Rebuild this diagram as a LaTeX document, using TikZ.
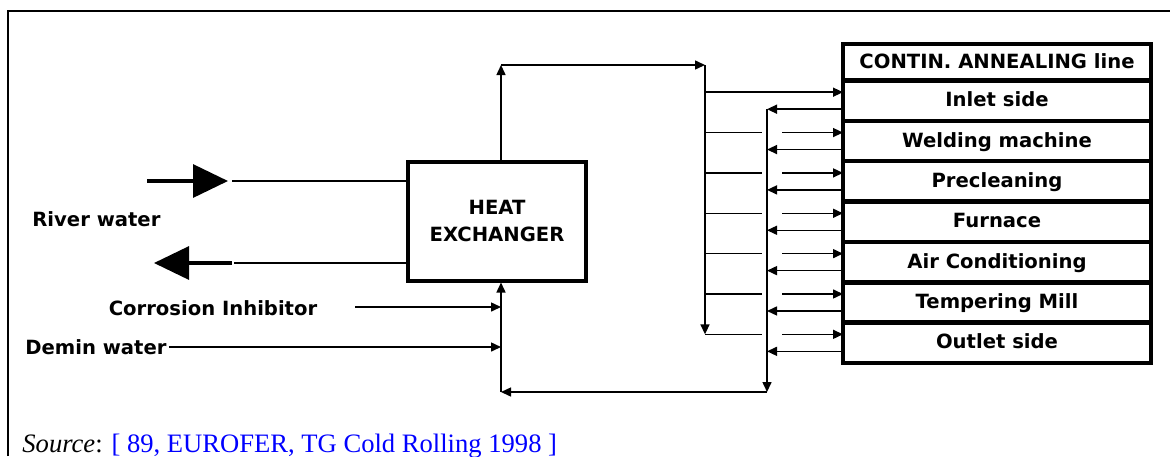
\documentclass[tikz,border=0pt]{standalone}
\usepackage{fontspec}
\setmainfont{Liberation Serif}
\setsansfont{DejaVu Sans}
\usepackage{xcolor}
\usepackage{tikz}
\usetikzlibrary{arrows.meta,positioning,calc}

\begin{document}
\begin{tikzpicture}[
    x=0.5pt, y=-0.5pt,
    lbl/.style={font=\sffamily\bfseries\fontsize{9.8}{11.5}\selectfont, inner sep=1pt},
    unitbox/.style={rectangle, draw, line width=2.2pt, outer sep=0pt, minimum width=154pt, minimum height=20.18pt, inner sep=0pt, text height=1.7ex, text depth=0.4ex, font=\sffamily\bfseries\fontsize{9.8}{11.5}\selectfont},
    pipe/.style={line width=0.75pt},
    pipeto/.style={line width=0.75pt, -{Triangle[length=5pt,width=4.5pt]}},
    bigpipe/.style={line width=1.6pt, -{Triangle[length=17.5pt,width=16.5pt]}},
    node distance=0pt
]
    \useasboundingbox (0,0) rectangle (1170,456);
    % frame
    \draw[line width=1.4pt] (8,456) -- (8,11) -- (1170,11);

    % heat exchanger and annealing line units
    \node[draw, line width=2pt, minimum width=89pt, minimum height=59.5pt, align=center, font=\sffamily\bfseries\fontsize{9.8}{13.5}\selectfont] (he) at (497,221) {HEAT\\EXCHANGER};
    \node[unitbox, minimum height=18.25pt] (cal) at (997,62.25) {CONTIN. ANNEALING line};
    \node[unitbox, below=of cal] (inlet) {Inlet side};
    \node[unitbox, below=of inlet] (weld) {Welding machine};
    \node[unitbox, below=of weld] (preclean) {Precleaning};
    \node[unitbox, below=of preclean] (furnace) {Furnace};
    \node[unitbox, below=of furnace] (aircon) {Air Conditioning};
    \node[unitbox, below=of aircon] (temper) {Tempering Mill};
    \node[unitbox, below=of temper] (outlet) {Outlet side};

    % labels on the left
    \node[lbl, anchor=west] (river) at (30,219) {River water};
    \node[lbl] (inhib) at (213,308) {Corrosion Inhibitor};
    \node[lbl, anchor=west] (demin) at (23,347) {Demin water};
    \node[anchor=base west, inner sep=0pt, font=\fontsize{13.3}{15}\selectfont] (src) at (22,452) {\textit{Source}: \textcolor{blue}{[ 89, EUROFER, TG Cold Rolling 1998 ]}};

    % corners of the water circuit
    \coordinate (up) at (501,65);
    \coordinate (sup) at (705,65);
    \coordinate (ret) at (767,392);
    \coordinate (back) at (501,392);
    \coordinate (gapl) at (762,0);
    \coordinate (gapr) at (782,0);
    \coordinate (rin) at (147,181);
    \coordinate (rinend) at (228,181);
    \coordinate (rinpipe) at (232,181);
    \coordinate (rout) at (232,263);
    \coordinate (routend) at (154,263);
    \coordinate (routpipe) at (234,263);
    \coordinate (inhibpipe) at (355,307);
    \foreach \x in {inlet,weld,preclean,furnace,aircon,temper,outlet} {
        \coordinate (\x-in) at ([yshift=4.25pt]\x.west);
        \coordinate (\x-out) at ([yshift=-4.25pt]\x.west);
    }

    % river water
    \draw[bigpipe] (rin) -- (rinend);
    \draw[pipe] (rinpipe) -- (he.west |- rinpipe);
    \draw[bigpipe] (rout) -- (routend);
    \draw[pipe] (routpipe) -- (he.west |- routpipe);

    % supply
    \draw[pipeto] (he.north -| up) -- (up);
    \draw[pipeto] (up) -- (sup);
    \draw[pipeto] (sup) -- (sup |- outlet-in);
    \draw[pipeto] (sup |- inlet-in) -- (inlet-in);
    \foreach \x in {weld,preclean,furnace,aircon,temper,outlet} {
        \draw[pipe] (sup |- \x-in) -- (gapl |- \x-in);
        \draw[pipeto] (gapr |- \x-in) -- (\x-in);
    }

    % return
    \foreach \x in {inlet,weld,preclean,furnace,aircon,temper,outlet}
        \draw[pipeto] (\x-out) -- (ret |- \x-out);
    \draw[pipeto] (inlet-out -| ret) -- (ret);
    \draw[pipeto] (ret) -- (back);
    \draw[pipeto] (back) -- (he.south -| back);
    \draw[pipeto] (inhibpipe) -- (inhibpipe -| back);
    \draw[pipeto] (demin.east) -- (demin.east -| back);
\end{tikzpicture}
\end{document}
